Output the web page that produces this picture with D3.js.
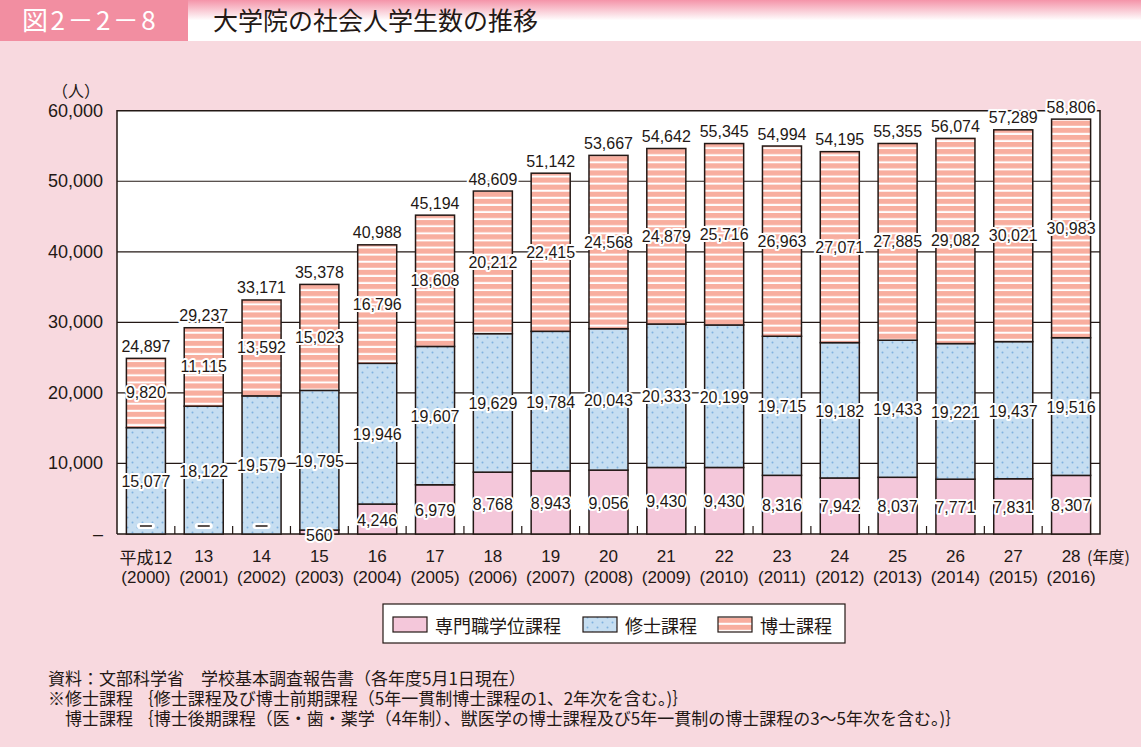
<!DOCTYPE html>
<html><head><meta charset="utf-8">
<script src="https://cdn.jsdelivr.net/npm/d3@7"></script>
<style>
body{margin:0;padding:0;background:#f8d9df;}
svg{display:block;}
</style></head>
<body>
<script>
const eras = ["平成12","13","14","15","16","17","18","19","20","21","22","23","24","25","26","27","28"];
const years = ["(2000)","(2001)","(2002)","(2003)","(2004)","(2005)","(2006)","(2007)","(2008)","(2009)","(2010)","(2011)","(2012)","(2013)","(2014)","(2015)","(2016)"];
const professional = [null,null,null,560,4246,6979,8768,8943,9056,9430,9430,8316,7942,8037,7771,7831,8307];
const master = [15077,18122,19579,19795,19946,19607,19629,19784,20043,20333,20199,19715,19182,19433,19221,19437,19516];
const doctor = [9820,11115,13592,15023,16796,18608,20212,22415,24568,24879,25716,26963,27071,27885,29082,30021,30983];
const totals = [24897,29237,33171,35378,40988,45194,48609,51142,53667,54642,55345,54994,54195,55355,56074,57289,58806];
const yTicks = [0,10000,20000,30000,40000,50000,60000];
const yTickLabels = ["–","10,000","20,000","30,000","40,000","50,000","60,000"];
const seriesNames = ["専門職学位課程","修士課程","博士課程"];
const notes = [
  "資料：文部科学省　学校基本調査報告書（各年度5月1日現在）",
  "※修士課程 ｛修士課程及び博士前期課程（5年一貫制博士課程の1、2年次を含む。)｝",
  "　博士課程 ｛博士後期課程（医・歯・薬学（4年制）、獣医学の博士課程及び5年一貫制の博士課程の3～5年次を含む。)｝"
];

const W = 1141, H = 747;
const ink = "#231815";
const numFont = "'Liberation Sans', Arial, sans-serif";
const jpFont = "'Noto Sans CJK JP', sans-serif";

const svg = d3.select("body").append("svg").attr("width", W).attr("height", H);
const defs = svg.append("defs");

// patterns
const pStripe = defs.append("pattern").attr("id","stripe").attr("patternUnits","userSpaceOnUse").attr("width",8).attr("height",7.1);
pStripe.append("rect").attr("width",8).attr("height",7.1).attr("fill","#f8ae9f");
pStripe.append("rect").attr("y",5.1).attr("width",8).attr("height",2).attr("fill","#ffffff");

const pDot = defs.append("pattern").attr("id","dots").attr("patternUnits","userSpaceOnUse").attr("width",10).attr("height",10);
pDot.append("rect").attr("width",10).attr("height",10).attr("fill","#c6def1");
pDot.append("circle").attr("cx",2.5).attr("cy",2.5).attr("r",1.0).attr("fill","#80b2df");
pDot.append("circle").attr("cx",7.5).attr("cy",7.5).attr("r",1.0).attr("fill","#80b2df");

const grad = defs.append("linearGradient").attr("id","hdr").attr("x1",0).attr("y1",0).attr("x2",0).attr("y2",1);
grad.append("stop").attr("offset",0).attr("stop-color","#f494a9");
grad.append("stop").attr("offset",0.5).attr("stop-color","#ffffff");
grad.append("stop").attr("offset",1).attr("stop-color","#ffffff");

// background
svg.append("rect").attr("width",W).attr("height",H).attr("fill","#f8d9df");

// header
svg.append("rect").attr("x",0).attr("y",0).attr("width",W).attr("height",41).attr("fill","url(#hdr)");
svg.append("rect").attr("x",0).attr("y",0).attr("width",188).attr("height",41).attr("fill","#f28ea1");
svg.append("text").attr("x",22).attr("y",30).attr("font-family",jpFont).attr("font-size",26)
  .attr("letter-spacing",2.5).attr("fill","#ffffff").text("図2－2－8");
svg.append("text").attr("x",213).attr("y",30).attr("font-family",jpFont).attr("font-size",25)
  .attr("fill",ink).text("大学院の社会人学生数の推移");

// scales
const pL = 117, pR = 1100, pT = 110.7, pB = 534;
const x = d3.scaleBand().domain(d3.range(eras.length)).range([pL,pR]).paddingInner(0.325).paddingOuter(0.1625);
const y = d3.scaleLinear().domain([0,60000]).range([pB,pT]);

// plot area
svg.append("rect").attr("x",pL).attr("y",pT).attr("width",pR-pL).attr("height",pB-pT).attr("fill","#ffffff");
svg.append("g").selectAll("line").data(yTicks.slice(1,-1)).join("line")
  .attr("x1",pL).attr("x2",pR).attr("y1",d=>y(d)).attr("y2",d=>y(d))
  .attr("stroke",ink).attr("stroke-width",1.2);
svg.append("path").attr("d",`M${pL},${pB}V${pT}H${pR}V${pB}H${pL}`)
  .attr("fill","none").attr("stroke",ink).attr("stroke-width",1.5);

// x tick marks at band boundaries
const step = x.step();
svg.append("g").selectAll("line").data(d3.range(1,eras.length)).join("line")
  .attr("x1",i=>pL+i*step).attr("x2",i=>pL+i*step).attr("y1",pB).attr("y2",pB-8)
  .attr("stroke",ink).attr("stroke-width",1.2);

// stacked bars
const rows = eras.map((e,i)=>({i, p: professional[i]||0, m: master[i], d: doctor[i]}));
const stack = d3.stack().keys(["p","m","d"])(rows);
const fills = {p:"#f4c7da", m:"url(#dots)", d:"url(#stripe)"};
const barG = svg.append("g");
stack.forEach(layer=>{
  barG.append("g").selectAll("rect").data(layer.filter(s=>s[1]>s[0])).join("rect")
    .attr("x",s=>x(s.data.i)).attr("width",x.bandwidth())
    .attr("y",s=>y(s[1])).attr("height",s=>y(s[0])-y(s[1]))
    .attr("fill",fills[layer.key]).attr("stroke",ink).attr("stroke-width",1.5);
});

// labels with halo
function label(g, xx, yy, txt, size){
  g.append("text").attr("x",xx).attr("y",yy).attr("text-anchor","middle").attr("dominant-baseline","central")
    .attr("font-family",numFont).attr("font-size",size||16).attr("fill",ink)
    .attr("stroke","#ffffff").attr("stroke-width",4).attr("stroke-linejoin","round")
    .attr("paint-order","stroke").text(txt);
}
const lg = svg.append("g");
const fmt = d3.format(",");
rows.forEach((r,i)=>{
  const cx = x(i)+x.bandwidth()/2;
  const p = professional[i];
  if(p===null){
    lg.append("rect").attr("x",cx-9).attr("y",pB-11).attr("width",18).attr("height",6).attr("rx",3).attr("fill","#ffffff");
    lg.append("line").attr("x1",cx-6).attr("x2",cx+6).attr("y1",pB-8).attr("y2",pB-8).attr("stroke",ink).attr("stroke-width",1.5);
  } else {
    const yy = p < 2000 ? pB+1 : y(p/2)+1;
    label(lg, cx, yy, fmt(p));
  }
  label(lg, cx, y(r.p + r.m/2)+1, fmt(master[i]));
  label(lg, cx, y(r.p + r.m + r.d/2), fmt(doctor[i]));
  label(lg, cx, y(totals[i])-12, fmt(totals[i]));
});

// y axis labels
svg.append("g").selectAll("text").data(yTicks).join("text")
  .attr("x",103).attr("y",d=>y(d)).attr("dominant-baseline","central").attr("text-anchor","end")
  .attr("font-family",numFont).attr("font-size",18).attr("fill",ink)
  .text((d,i)=>yTickLabels[i]);
svg.append("text").attr("x",76).attr("y",90).attr("text-anchor","middle").attr("dominant-baseline","central")
  .attr("font-family",jpFont).attr("font-size",16).attr("fill",ink).text("（人）");

// x axis labels
const xl = svg.append("g");
eras.forEach((e,i)=>{
  const cx = x(i)+x.bandwidth()/2;
  xl.append("text").attr("x",cx).attr("y",556).attr("text-anchor","middle").attr("dominant-baseline","central")
    .attr("font-family",i===0?jpFont:numFont).attr("font-size",17).attr("fill",ink).text(e);
  xl.append("text").attr("x",cx).attr("y",577).attr("text-anchor","middle").attr("dominant-baseline","central")
    .attr("font-family",numFont).attr("font-size",17).attr("fill",ink).text(years[i]);
});
svg.append("text").attr("x",1087).attr("y",556).attr("dominant-baseline","central")
  .attr("font-family",jpFont).attr("font-size",16).attr("fill",ink).text("(年度)");

// legend
const leg = svg.append("g");
leg.append("rect").attr("x",383).attr("y",604).attr("width",462).attr("height",39).attr("fill","#ffffff").attr("stroke",ink).attr("stroke-width",1.2);
const legX = [393,583,718];
const legFill = ["#f4c7da","url(#dots)","url(#stripe)"];
seriesNames.forEach((n,i)=>{
  leg.append("rect").attr("x",legX[i]).attr("y",617).attr("width",34).attr("height",15)
    .attr("fill",legFill[i]).attr("stroke",ink).attr("stroke-width",1.2);
  leg.append("text").attr("x",legX[i]+42).attr("y",624.5).attr("dominant-baseline","central")
    .attr("font-family",jpFont).attr("font-size",18).attr("fill",ink).text(n);
});

// notes
notes.forEach((t,i)=>{
  svg.append("text").attr("x",48).attr("y",677+i*20).attr("dominant-baseline","central")
    .attr("font-family",jpFont).attr("font-size",17).attr("fill",ink).text(t);
});
</script>
</body></html>
